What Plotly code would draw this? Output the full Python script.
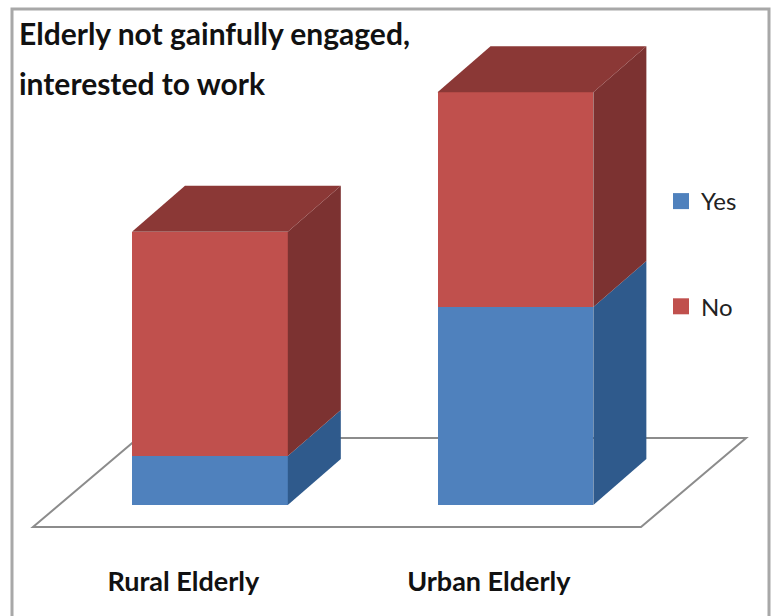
import plotly.graph_objects as go

categories = ["Rural Elderly", "Urban Elderly"]
yes_values = [9.9, 39.9]
no_values = [45.2, 43.3]
title_lines = ["Elderly not gainfully engaged,", "interested to work"]

BLUE, BLUE_SIDE = "#4f81bd", "#2f5a8c"
RED, RED_SIDE, RED_TOP = "#c0504d", "#7c3231", "#8b3836"
FONT = "Lato"
W, H = 773, 616
BAR_W = 0.51
DX, DY = 0.1735, 9.27
XR = [-0.687, 1.843]
YR = [-6.25, 101.8]
LABEL_SHIFT = -0.087

fig = go.Figure()

def face(xs, ys, color):
    fig.add_trace(go.Scatter(x=xs, y=ys, mode="lines", fill="toself", fillcolor=color,
                             line=dict(width=0, color=color), showlegend=False, hoverinfo="skip"))

for i in range(len(categories)):
    l, r = i - BAR_W / 2, i + BAR_W / 2
    y1 = yes_values[i]
    y2 = y1 + no_values[i]
    face([r, r + DX, r + DX, r], [0, DY, y1 + DY, y1], BLUE_SIDE)
    face([r, r + DX, r + DX, r], [y1, y1 + DY, y2 + DY, y2], RED_SIDE)
    face([l, r, r + DX, l + DX], [y2, y2, y2 + DY, y2 + DY], RED_TOP)

fig.add_trace(go.Bar(x=[0, 1], y=yes_values, width=BAR_W, marker=dict(color=BLUE, line=dict(width=0)), showlegend=False))
fig.add_trace(go.Bar(x=[0, 1], y=no_values, width=BAR_W, marker=dict(color=RED, line=dict(width=0)), showlegend=False))

# legend entries
for name, color in (("Yes", BLUE), ("No", RED)):
    fig.add_trace(go.Scatter(x=[None], y=[None], mode="markers", name=name, legendgroup=name,
                             marker=dict(symbol="square", size=16, color=color)))

floor_y0, floor_y1 = -4.44, 13.5
floor = (f"M -0.579 {floor_y0} L 1.411 {floor_y0} L 1.755 {floor_y1} L -0.235 {floor_y1} Z")

fig.update_layout(
    width=W, height=H, autosize=False,
    margin=dict(l=0, r=0, t=0, b=80),
    paper_bgcolor="white", plot_bgcolor="white",
    barmode="stack",
    title=dict(text=title_lines[0], x=19 / W, xanchor="left", y=1 - 34 / H, yanchor="middle",
               font=dict(family=FONT, size=30, color="#111111", weight=700)),
    xaxis=dict(range=XR, tickmode="array", tickvals=[0 + LABEL_SHIFT, 1 + LABEL_SHIFT], ticktext=categories,
               showgrid=False, zeroline=False, showline=False, ticks="", ticklabelstandoff=27,
               tickfont=dict(family=FONT, size=27, color="#111111", weight=700)),
    yaxis=dict(range=YR, visible=False),
    legend=dict(x=661 / W, xanchor="left", y=1 - 179 / 536, yanchor="top",
                traceorder="grouped", tracegroupgap=71, bgcolor="rgba(0,0,0,0)",
                font=dict(family=FONT, size=24, color="#222222")),
    shapes=[
        dict(type="path", path=floor, xref="x", yref="y", layer="below",
             fillcolor="white", line=dict(color="#8c8c8c", width=2)),
        dict(type="rect", xref="paper", yref="paper", x0=12 / W, x1=769 / W, y0=-0.3, y1=1 - 9 / 536,
             layer="below", line=dict(color="#a8a8a8", width=3)),
    ],
    annotations=[dict(text=title_lines[1], xref="paper", yref="paper", x=17 / W, xanchor="left",
                      y=1 - 83 / 536, yanchor="middle", showarrow=False,
                      font=dict(family=FONT, size=30, color="#111111", weight=700))],
)
fig.write_html("out.html", config={"displayModeBar": False},
               post_script="document.body.style.margin='0';")
